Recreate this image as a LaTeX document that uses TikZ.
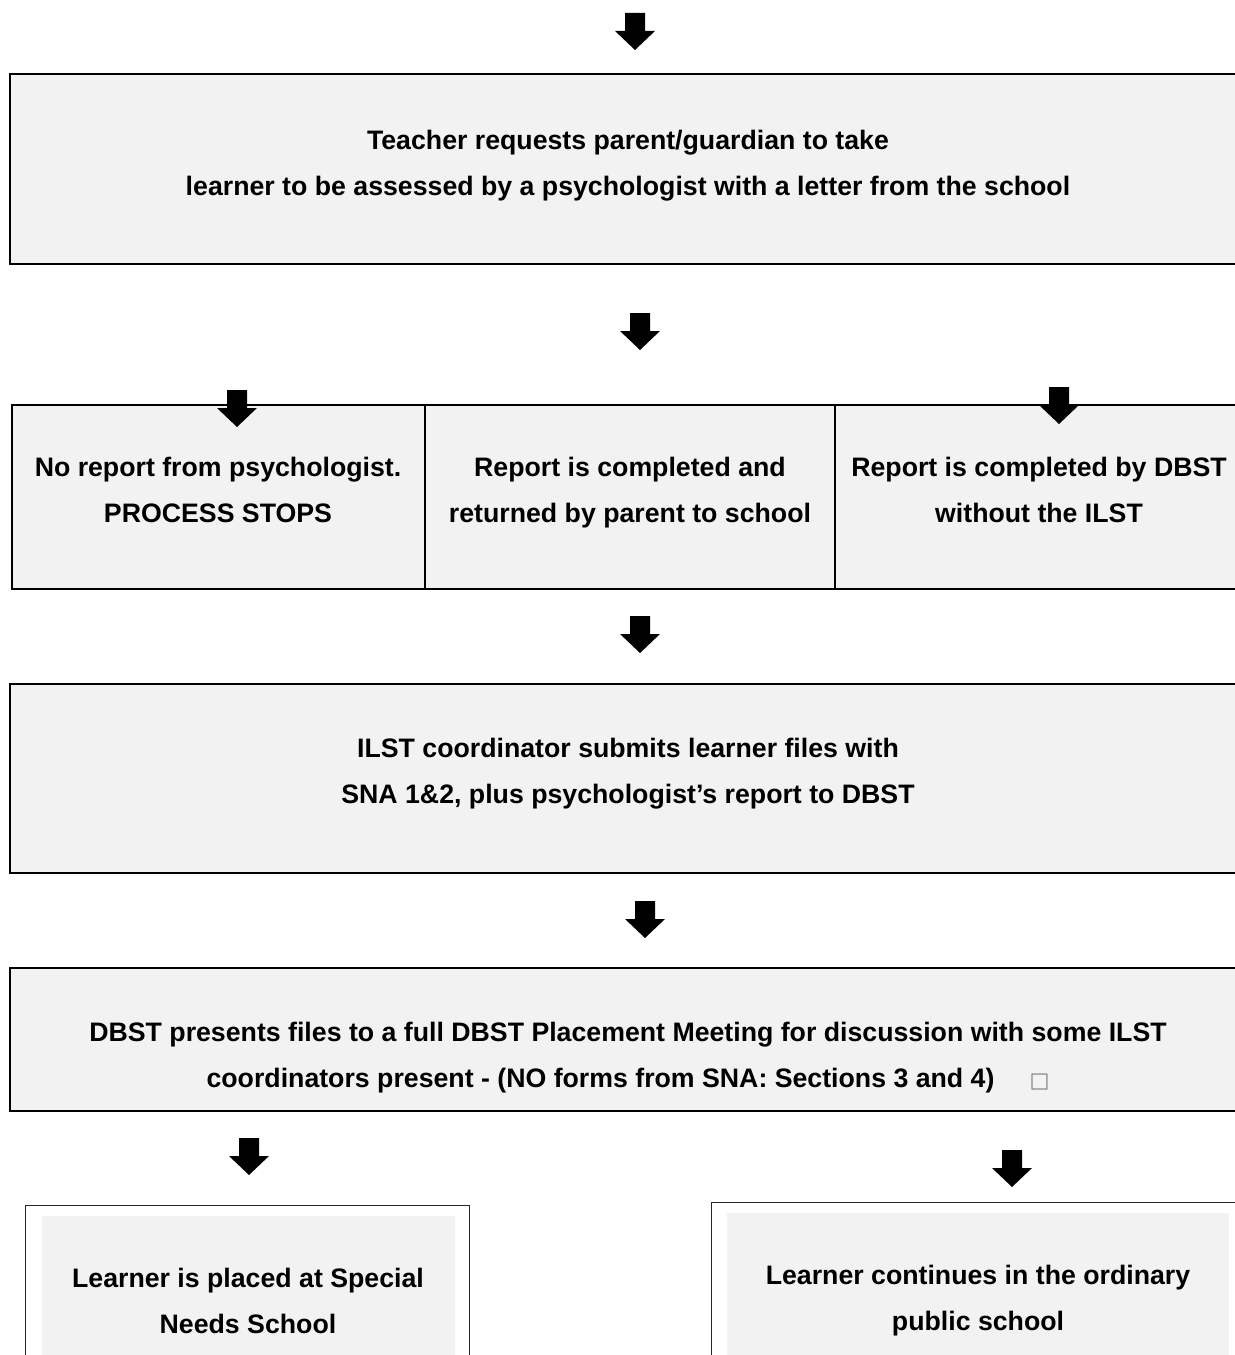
\documentclass[tikz,border=0pt]{standalone}
\usepackage{fontspec}
\setmainfont{Liberation Sans}
\newfontfamily\dejavu{DejaVu Sans}
\usetikzlibrary{positioning}
\definecolor{boxgray}{HTML}{F2F2F2}
\tikzset{
box/.style={draw, line width=1.1pt, fill=boxgray, inner sep=0pt},
outerbox/.style={draw=black!85, line width=0.6pt, fill=white, inner sep=0pt},
innerbox/.style={fill=boxgray, inner sep=0pt},
txt/.style={align=center, font=\fontsize{15.2}{26.2}\selectfont\bfseries, inner sep=0pt},
darrow/.pic={\fill (-10,0) -- (10,0) -- (10,18) -- (20,18) -- (0,37) -- (-20,18) -- (-10,18) -- cycle;}
}
\begin{document}
\begin{tikzpicture}[x=0.02cm,y=-0.02cm]
\useasboundingbox (0,0) rectangle (1234,1355);
\node[box, minimum width=24.72cm, minimum height=3.8cm](b1) at (628,169) {};
\node[box, minimum width=8.26cm, minimum height=3.68cm](r1) at (218.5,497) {};
\node[box, minimum width=8.2cm, minimum height=3.68cm](r2) at (630,497) {};
\node[box, minimum width=8.22cm, minimum height=3.68cm](r3) at (1040.5,497) {};
\node[box, minimum width=24.72cm, minimum height=3.78cm](b2) at (628,778.5) {};
\node[box, minimum width=24.72cm, minimum height=2.86cm](b3) at (628,1039.5) {};
\node[outerbox, minimum width=8.9cm, minimum height=3.9cm](o1) at (247.5,1302.5) {};
\node[innerbox, minimum width=8.26cm, minimum height=3.68cm](i1) at (248.5,1308) {};
\node[outerbox, minimum width=10.78cm, minimum height=3.96cm](o2) at (980.5,1301) {};
\node[innerbox, minimum width=10.04cm, minimum height=3.74cm](i2) at (978,1306.5) {};
\node[txt](t1) at (628,166) {Teacher requests parent/guardian to take\\learner to be assessed by a psychologist with a letter from the school};
\node[txt](t2) at (218,490) {No report from psychologist.\\PROCESS STOPS};
\node[txt](t3) at (630,493) {Report is completed and\\returned by parent to school};
\node[txt](t4) at (1039,490) {Report is completed by DBST\\without the ILST};
\node[txt](t5) at (628,773.5) {ILST coordinator submits learner files with\\SNA 1\&2, plus psychologist’s report to DBST};
\node[txt](t6) at (628,1058) {DBST presents files to a full DBST Placement Meeting for discussion with some ILST\\coordinators present - (NO forms from SNA: Sections 3 and 4)\hspace{0.7cm}{\dejavu\mdseries\fontsize{12}{12}\selectfont\color{gray}□}};
\node[txt](t7) at (248,1301) {Learner is placed at Special\\Needs School};
\node[txt](t8) at (978,1301) {Learner continues in the ordinary\\public school};
\pic at (635,13) {darrow};
\pic at (640,313) {darrow};
\pic at (237,390) {darrow};
\pic at (1059,387) {darrow};
\pic at (640,616) {darrow};
\pic at (645,901) {darrow};
\pic at (249,1138) {darrow};
\pic at (1012,1150) {darrow};
\end{tikzpicture}
\end{document}
